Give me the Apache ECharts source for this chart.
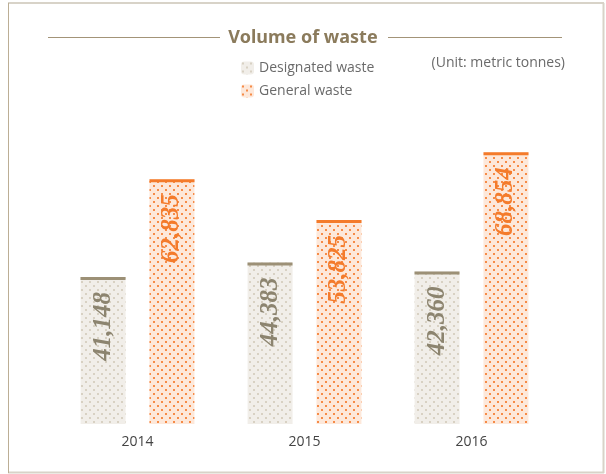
<!DOCTYPE html>
<html>
<head>
<meta charset="utf-8">
<script src="https://cdn.jsdelivr.net/npm/echarts@6/dist/echarts.min.js"></script>
<style>
  html, body { margin: 0; padding: 0; background: #fff; }
  #main { width: 606px; height: 474px; }
</style>
</head>
<body>
<div id="main"></div>
<script>
// data
var years = ["2014", "2015", "2016"];
var designatedWaste = [41148, 44383, 42360];
var generalWaste = [62835, 53825, 68854];
var seriesNames = ["Designated waste", "General waste"];

// dotted fill, like the print version
function dots(bg, dot) {
  var c = document.createElement("canvas");
  c.width = 8;
  c.height = 8;
  var ctx = c.getContext("2d");
  ctx.fillStyle = bg;
  ctx.fillRect(0, 0, 8, 8);
  ctx.fillStyle = dot;
  ctx.fillRect(1, 1, 2, 2);
  ctx.fillRect(5, 5, 2, 2);
  return c;
}
var greyFill = { image: dots("#f1eee9", "#d8d1c3"), repeat: "repeat" };
var orangeFill = { image: dots("#fde8da", "#f68b47"), repeat: "repeat" };

var fmt = function (p) { return p.value.toLocaleString("en-US"); };
var labelFont = {
  show: true,
  position: "insideTop",
  distance: 15,
  rotate: 90,
  align: "right",
  verticalAlign: "middle",
  fontFamily: "Liberation Serif",
  fontStyle: "italic",
  fontWeight: "bold",
  fontSize: 25,
  formatter: fmt
};

var myChart = echarts.init(document.getElementById("main"));

myChart.setOption({
  animation: false,
  title: {
    text: "Volume of waste",
    left: "center",
    top: 24,
    textStyle: { color: "#8b7b5c", fontSize: 18, fontWeight: "bold", fontFamily: "Noto Sans" }
  },
  legend: {
    data: seriesNames,
    orient: "vertical",
    left: 236,
    top: 56,
    itemWidth: 13,
    itemHeight: 13,
    itemGap: 9,
    textStyle: { color: "#6a6a6a", fontSize: 14, fontFamily: "Open Sans" }
  },
  grid: { left: 54, right: 51, top: 102, bottom: 50 },
  xAxis: {
    type: "category",
    data: years,
    axisLine: { show: false },
    axisTick: { show: false },
    axisLabel: { color: "#444", fontSize: 14, margin: 11, fontFamily: "Open Sans" }
  },
  yAxis: {
    type: "value",
    min: 8500,
    max: 80000,
    show: false,
    splitLine: { show: false }
  },
  graphic: [
    { type: "line", shape: { x1: 48, y1: 37.5, x2: 220, y2: 37.5 }, style: { stroke: "#a39478", lineWidth: 1 } },
    { type: "line", shape: { x1: 388, y1: 37.5, x2: 562, y2: 37.5 }, style: { stroke: "#a39478", lineWidth: 1 } },
    { type: "text", right: 41, top: 56, style: { text: "(Unit: metric tonnes)", fill: "#6a6a6a", fontSize: 14, fontFamily: "Open Sans" } },
    // frame
    { type: "line", shape: { x1: 8, y1: 3, x2: 604, y2: 3 }, style: { stroke: "#d8d3c8", lineWidth: 2 } },
    { type: "line", shape: { x1: 603.5, y1: 3, x2: 603.5, y2: 473 }, style: { stroke: "#d8d3c8", lineWidth: 2 } },
    { type: "line", shape: { x1: 8, y1: 472.5, x2: 604, y2: 472.5 }, style: { stroke: "#d8d3c8", lineWidth: 2 } },
    { type: "line", shape: { x1: 8.5, y1: 3, x2: 8.5, y2: 473 }, style: { stroke: "#bcae95", lineWidth: 1 } }
  ],
  series: [
    {
      name: seriesNames[0],
      type: "bar",
      data: designatedWaste,
      barWidth: 45,
      barGap: "53%",
      itemStyle: { color: greyFill },
      label: Object.assign({}, labelFont, { color: "#8c846f" })
    },
    {
      name: seriesNames[1],
      type: "bar",
      data: generalWaste,
      barWidth: 45,
      itemStyle: { color: orangeFill },
      label: Object.assign({}, labelFont, { color: "#f47b2b" })
    },
    // top edge of each bar
    {
      name: "cap1",
      type: "pictorialBar",
      data: designatedWaste,
      symbol: "rect",
      symbolSize: [45, 3],
      symbolPosition: "end",
      symbolOffset: [-34.5, 0],
      barWidth: 45,
      itemStyle: { color: "#9c9076" },
      z: 5
    },
    {
      name: "cap2",
      type: "pictorialBar",
      data: generalWaste,
      symbol: "rect",
      symbolSize: [45, 3],
      symbolPosition: "end",
      symbolOffset: [34.5, 0],
      barWidth: 45,
      itemStyle: { color: "#f47b2b" },
      z: 5
    }
  ]
});
</script>
</body>
</html>
